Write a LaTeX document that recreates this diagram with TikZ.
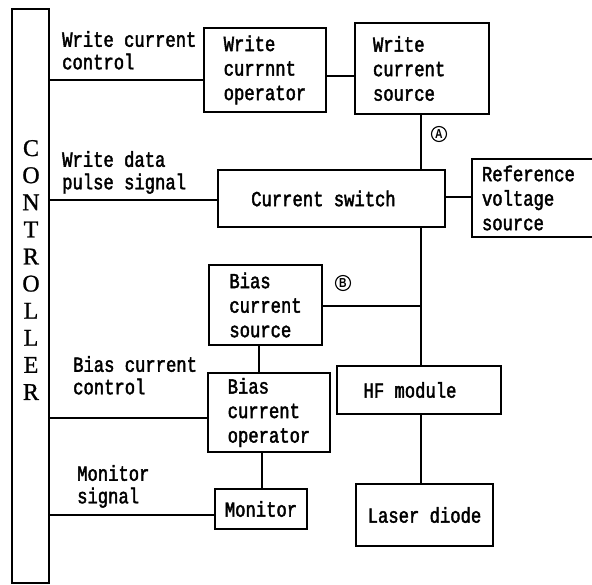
\documentclass[tikz,border=0pt]{standalone}
\usepackage{fontspec}
\setmainfont{Liberation Serif}[FakeBold=1]
\newfontfamily\monofnt{Liberation Mono}[FakeStretch=0.8,FakeBold=2]
\newfontfamily\markfnt{Liberation Sans}[FakeStretch=0.8]
\begin{document}
\begin{tikzpicture}[x=1pt,y=-1pt,
  box/.style={draw,line width=1.3pt,inner sep=0pt,align=left,
    font=\monofnt\fontsize{21.5}{24.5}\selectfont},
  lbl/.style={anchor=north west,inner sep=0pt,align=left,
    font=\monofnt\fontsize{21.5}{22.5}\selectfont},
  wire/.style={line width=1.3pt},
  circmark/.style={draw,circle,line width=1.1pt,minimum size=15pt,inner sep=0pt,
    font=\markfnt\bfseries\fontsize{13}{13}\selectfont}]
\clip (0,0) rectangle (592,585);
% controller
\node[draw,line width=1.3pt,minimum width=37pt,minimum height=574pt,inner sep=0pt] (ctrl) at (30.5,296) {};
\node[align=center,inner sep=0pt,font=\fontsize{24}{27.1}\selectfont] (ctrltext) at (31,270)
  {C\\O\\N\\T\\R\\O\\L\\L\\E\\R};
% boxes
\node[box,minimum width=122pt,minimum height=84pt] (wco) at (265,70) {Write\\currnnt\\operator};
\node[box,minimum width=134pt,minimum height=91pt,text width=98pt] (wcs) at (422,68.5) {Write\\current\\source};
\node[box,minimum width=227pt,minimum height=57pt] (cs) at (331.5,198.5) {Current switch\hspace*{16pt}};
\node[box,minimum width=140pt,minimum height=78pt,text width=120pt] (rvs) at (542,198) {Reference\\voltage\\source};
\node[box,minimum width=113pt,minimum height=80pt] (bcs) at (265.5,305) {Bias\\current\\source};
\node[box,minimum width=122pt,minimum height=79pt] (bco) at (269,412.5) {Bias\\current\\operator};
\node[box,minimum width=92pt,minimum height=40pt] (mon) at (261,509) {Monitor};
\node[box,minimum width=164pt,minimum height=48pt] (hf) at (419,390) {HF module\hspace*{18pt}};
\node[box,minimum width=137pt,minimum height=62pt] (ld) at (424.5,515) {Laser diode};
% labels
\node[lbl] (l1) at (62,31) {Write current\\control};
\node[lbl] (l2) at (62,151) {Write data\\pulse signal};
\node[lbl] (l3) at (73,356) {Bias current\\control};
\node[lbl] (l4) at (77,465) {Monitor\\signal};
% circled marks
\node[circmark] (ma) at (439,134) {A};
\node[circmark] (mb) at (343,283) {B};
% connectors
\coordinate (j1) at (421,306);
\draw[wire] (ctrl.east |- 0,80) -- (wco.west |- 0,80);
\draw[wire] (wco.east |- 0,76) -- (wcs.west |- 0,76);
\draw[wire] (wcs.south -| j1) -- (cs.north -| j1);
\draw[wire] (ctrl.east |- 0,200) -- (cs.west |- 0,200);
\draw[wire] (cs.east |- 0,197) -- (rvs.west |- 0,197);
\draw[wire] (cs.south -| j1) -- (hf.north -| j1);
\draw[wire] (bcs.east |- j1) -- (j1);
\draw[wire] (bcs.south -| 259,0) -- (bco.north -| 259,0);
\draw[wire] (bco.south -| 262,0) -- (mon.north -| 262,0);
\draw[wire] (ctrl.east |- 0,418) -- (bco.west |- 0,418);
\draw[wire] (ctrl.east |- 0,515) -- (mon.west |- 0,515);
\draw[wire] (hf.south -| j1) -- (ld.north -| j1);
\end{tikzpicture}
\end{document}
